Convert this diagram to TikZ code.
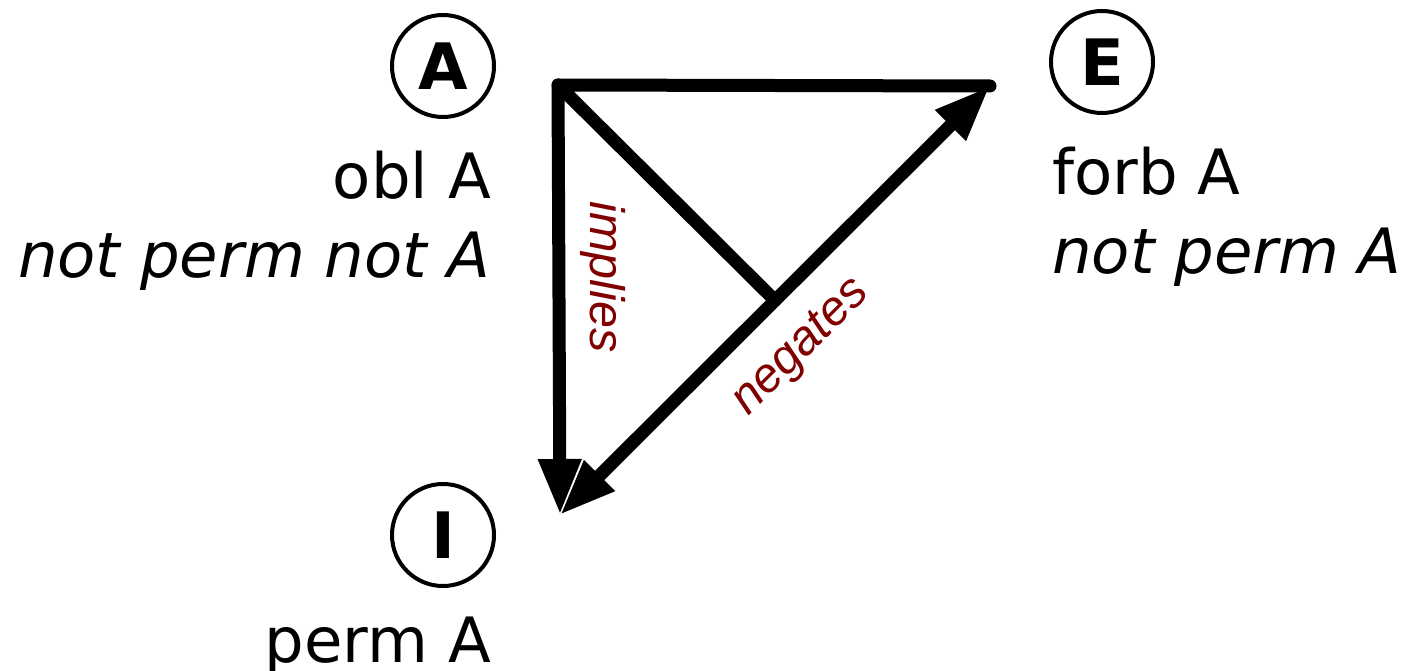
\documentclass[tikz,border=0pt]{standalone}
\usepackage{fontspec}
\setmainfont{DejaVu Sans}
\newfontfamily\labfont{Liberation Sans}
\usetikzlibrary{arrows.meta,calc}
\definecolor{labred}{HTML}{800000}
\begin{document}
\begin{tikzpicture}[x=1pt,y=-1pt,
  letter/.style={circle, draw, line width=4pt, minimum size=102pt, inner sep=0pt, font=\fontsize{64}{64}\selectfont\bfseries},
  txt/.style={inner sep=0pt, font=\fontsize{62.5}{62.5}\selectfont},
  itxt/.style={inner sep=0pt, font=\fontsize{62.5}{62.5}\selectfont\itshape},
  conn/.style={line width=13pt, line cap=round, line join=round},
  lab/.style={text=labred, inner sep=0pt, font=\labfont\fontsize{48.5}{48.5}\selectfont\itshape}]
\useasboundingbox (0,0) rectangle (1407,671);
\node[letter] (A) at (443,66) {A};
\node[letter] (E) at (1102,62) {E};
\node[letter] (I) at (443,535) {I};
\coordinate (cA) at (558,85);
\coordinate (cE) at (990,86);
\coordinate (cI) at (560,515);
\coordinate (mid) at ($(cE)!0.5!(cI)$);
\draw[conn] (cE) -- (cA) -- (mid);
\draw[conn, -{Triangle[length=56pt,width=40pt]}] (cA) -- (cI);
\draw[conn, {Triangle[length=56pt,width=40pt]}-{Triangle[length=56pt,width=40pt]}] (cI) -- (cE);
\node[txt, anchor=base east] (oblA) at (491,198) {obl A};
\node[itxt, anchor=base east] (npnA) at (490,277) {not perm not A};
\node[txt, anchor=base west] (forbA) at (1052,195) {forb A};
\node[itxt, anchor=base west] (npA) at (1052,273) {not perm A};
\node[txt, anchor=base east] (permA) at (491,662) {perm A};
\node[lab, rotate=-90] (imp) at (603,277) {implies};
\node[lab, rotate=45] (neg) at (802,348) {negates};
\end{tikzpicture}
\end{document}
